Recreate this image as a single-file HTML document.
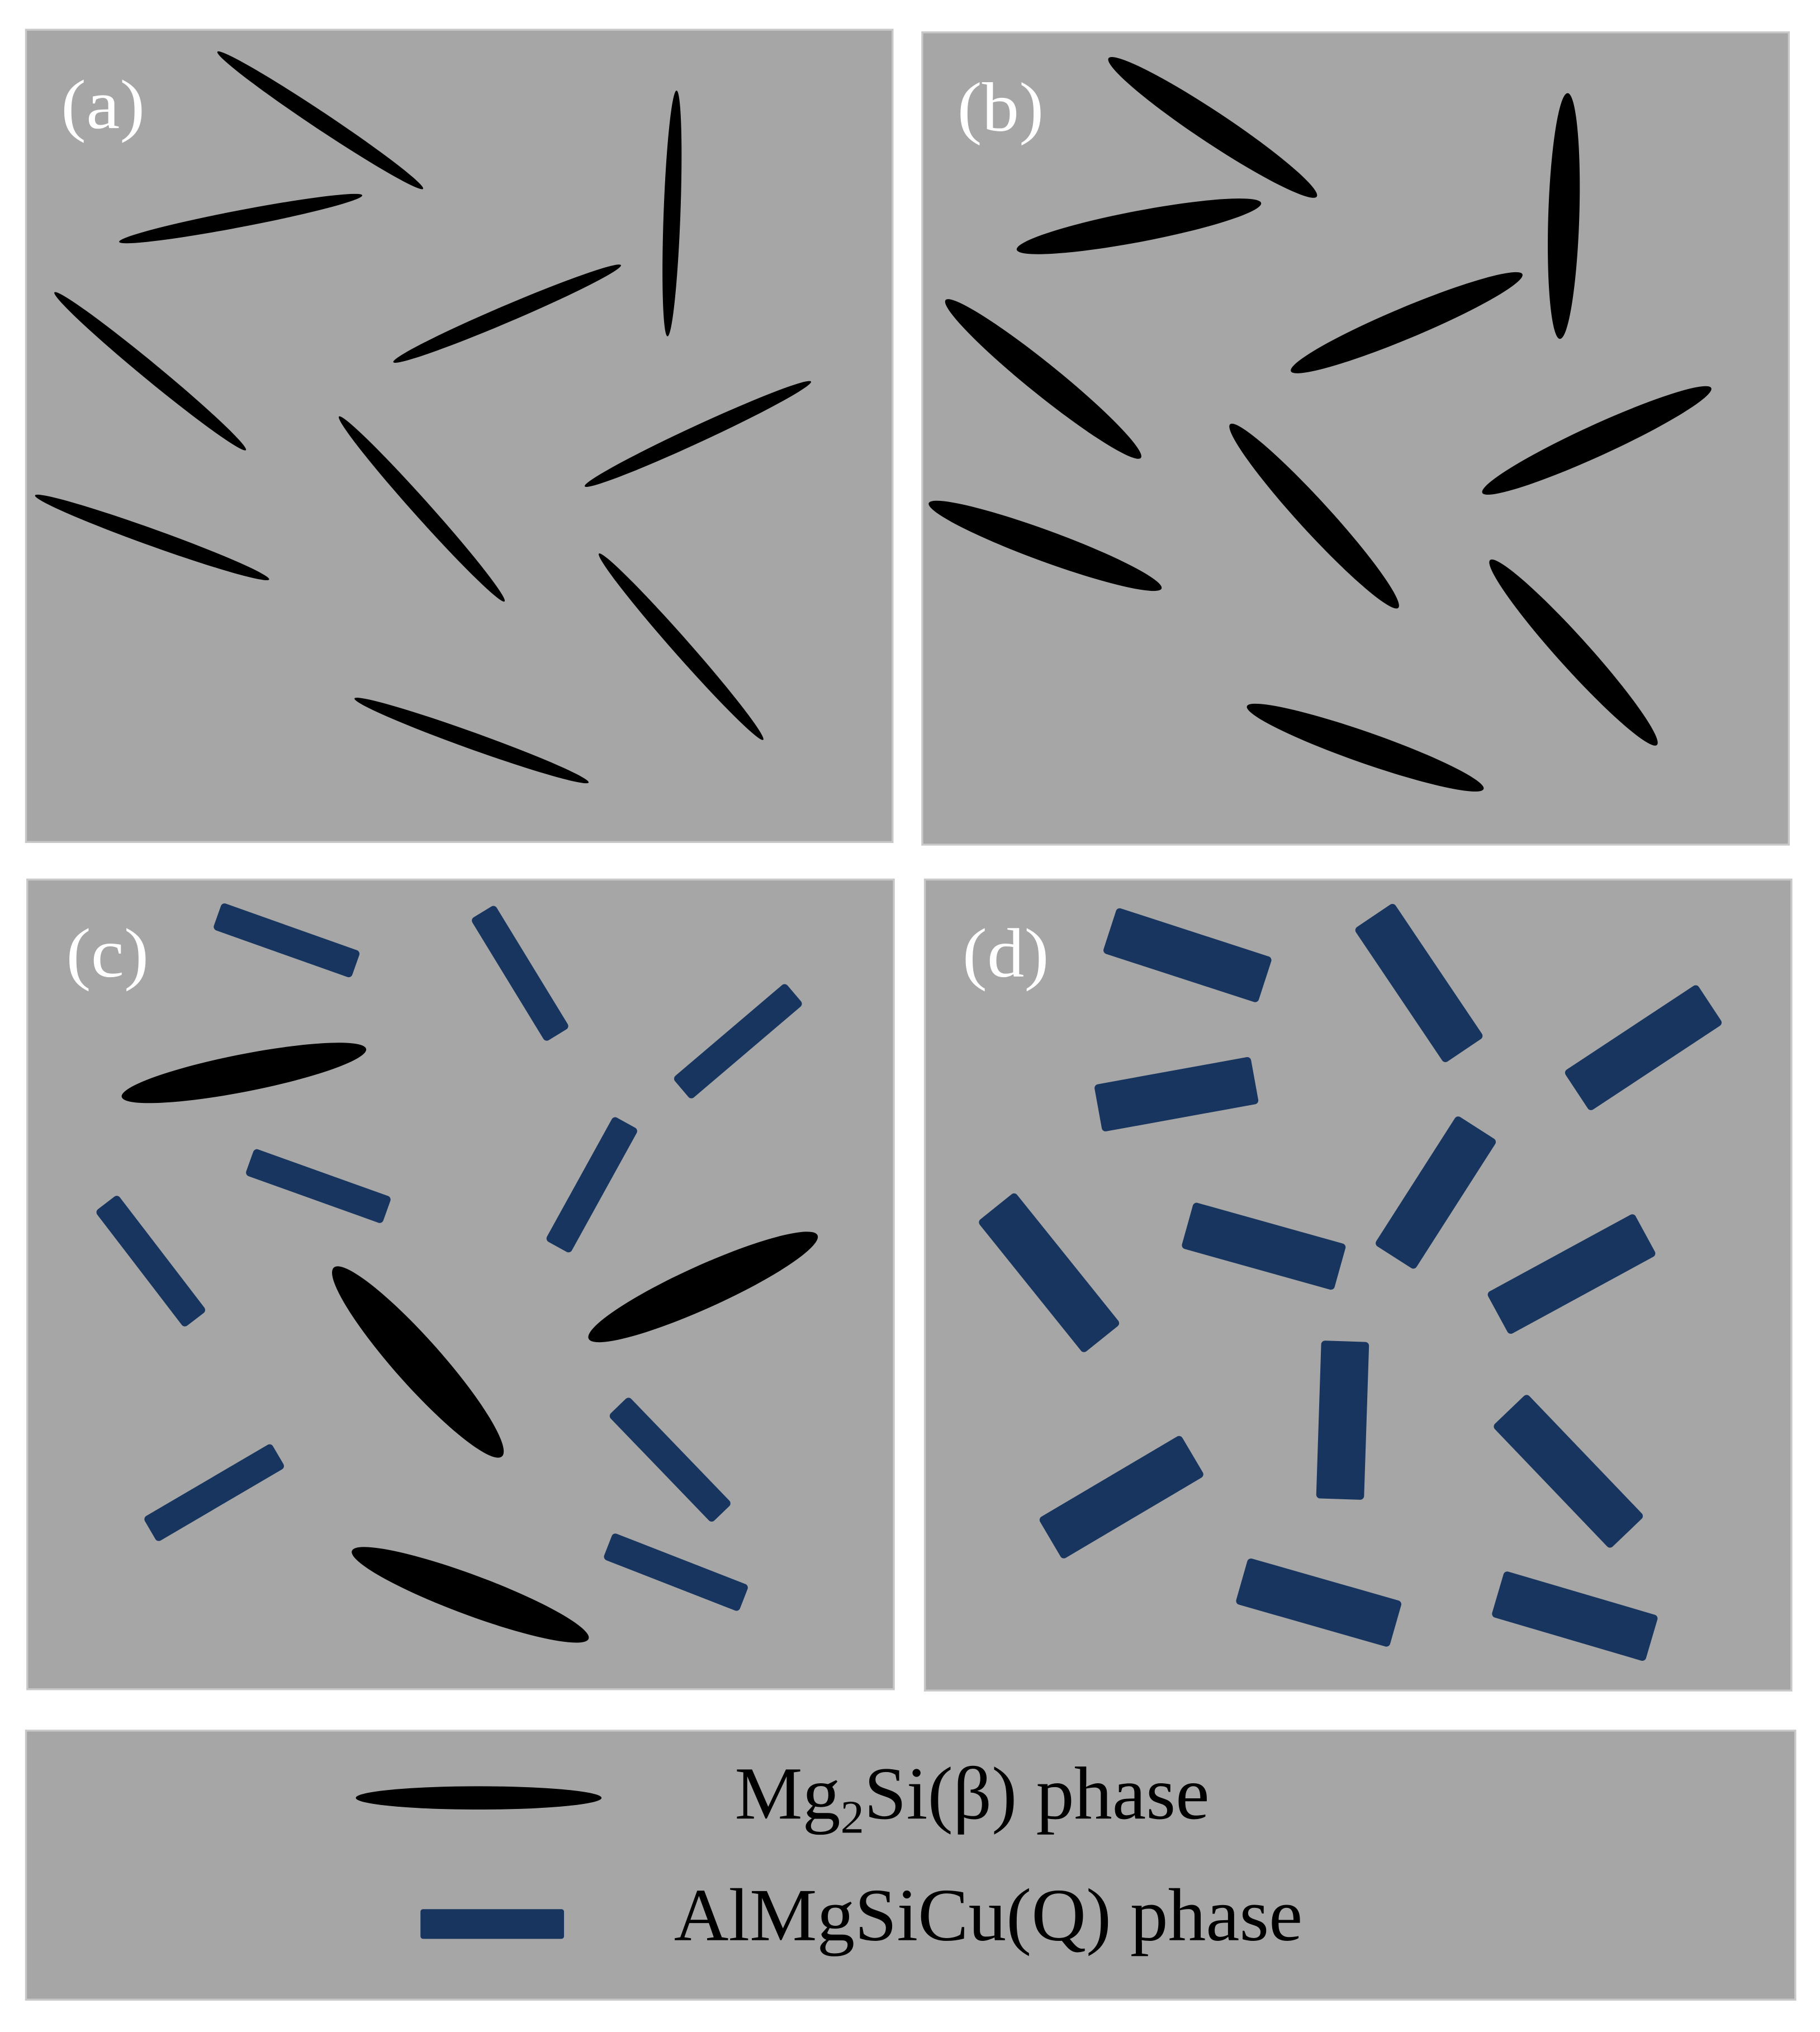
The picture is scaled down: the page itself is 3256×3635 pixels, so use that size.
<!DOCTYPE html>
<html><head><meta charset="utf-8"><style>
html,body{margin:0;padding:0;background:#fff;}
svg{display:block;}
</style></head><body>
<svg id="s" width="3256" height="3635" viewBox="0 0 1407 1571" xmlns="http://www.w3.org/2000/svg">
<rect width="1407" height="1571" fill="#fff"/>
<rect x="20" y="23" width="670" height="628" fill="#a6a6a6" stroke="#c8c8c8" stroke-width="1.5"/>
<rect x="713" y="25" width="670" height="628" fill="#a6a6a6" stroke="#c8c8c8" stroke-width="1.5"/>
<rect x="21" y="680" width="670" height="626" fill="#a6a6a6" stroke="#c8c8c8" stroke-width="1.5"/>
<rect x="715" y="680" width="670" height="627" fill="#a6a6a6" stroke="#c8c8c8" stroke-width="1.5"/>
<rect x="20" y="1338" width="1368" height="208" fill="#a6a6a6" stroke="#c8c8c8" stroke-width="1.5"/>
<g id="g"></g>
<g font-family="'Liberation Serif', serif" fill="#fff" font-size="54">
<text x="47" y="99" textLength="65" lengthAdjust="spacingAndGlyphs">(a)</text>
<text x="740" y="101" textLength="67" lengthAdjust="spacingAndGlyphs">(b)</text>
<text x="51" y="755" textLength="64" lengthAdjust="spacingAndGlyphs">(c)</text>
<text x="744" y="755" textLength="67" lengthAdjust="spacingAndGlyphs">(d)</text>
</g>
<g font-family="'Liberation Serif', serif" fill="#000" font-size="58">
<text x="568" y="1406" textLength="367" lengthAdjust="spacingAndGlyphs">Mg<tspan font-size="36" dy="11">2</tspan><tspan dy="-11">Si(β) phase</tspan></text>
<text x="521" y="1500" textLength="486" lengthAdjust="spacingAndGlyphs">AlMgSiCu(Q) phase</text>
</g>
</svg>
<script>
var g=document.getElementById('g'),NS='http://www.w3.org/2000/svg';
function E(x1,y1,x2,y2,w){var cx=(x1+x2)/2,cy=(y1+y2)/2,l=Math.hypot(x2-x1,y2-y1),a=Math.atan2(y2-y1,x2-x1)*180/Math.PI;
var e=document.createElementNS(NS,'ellipse');e.setAttribute('cx',cx);e.setAttribute('cy',cy);e.setAttribute('rx',l/2);e.setAttribute('ry',w/2);
e.setAttribute('transform','rotate('+a+' '+cx+' '+cy+')');e.setAttribute('fill','#000');g.appendChild(e);}
function C(x1,y1,x2,y2,w){var l=document.createElementNS(NS,'line');l.setAttribute('x1',x1);l.setAttribute('y1',y1);l.setAttribute('x2',x2);l.setAttribute('y2',y2);
l.setAttribute('stroke','#000');l.setAttribute('stroke-width',w);l.setAttribute('stroke-linecap','round');g.appendChild(l);}
function R(x1,y1,x2,y2,w){var cx=(x1+x2)/2,cy=(y1+y2)/2,l=Math.hypot(x2-x1,y2-y1),a=Math.atan2(y2-y1,x2-x1)*180/Math.PI;
var e=document.createElementNS(NS,'rect');e.setAttribute('x',cx-l/2);e.setAttribute('y',cy-w/2);e.setAttribute('width',l);e.setAttribute('height',w);e.setAttribute('rx',3);
e.setAttribute('transform','rotate('+a+' '+cx+' '+cy+')');e.setAttribute('fill','#17355e');g.appendChild(e);}
function T(p,w){E(p[0],p[1],p[2],p[3],w);var k=0.2;C(p[0]+(p[2]-p[0])*k,p[1]+(p[3]-p[1])*k,p[2]-(p[2]-p[0])*k,p[3]-(p[3]-p[1])*k,w*0.95);
E(p[0],p[1],p[2],p[3],w);}
// a
[[168,40,327,146],[92,187,280,151],[523,70,516,260],[42,226,190,348],[304,280,480,205],[262,322,390,465],[452,376,627,295],[27,383,208,448],[463,428,590,572],[274,540,455,605]].forEach(function(p){E(p[0],p[1],p[2],p[3],13)});
// b
[[857,45,1018,152],[786,193,975,157],[1212,72,1206,262],[731,232,882,354],[998,287,1177,212],[951,328,1081,470],[1146,381,1323,300],[718,389,898,455],[1152,433,1281,576],[964,546,1147,610]].forEach(function(p){E(p[0],p[1],p[2],p[3],24)});
// c ellipses
E(94,848,283,811,29);E(258,980,388,1126,36);E(455,1035,632,955,33);E(272,1199,455,1267,31);
// c bars
[[168,708,275,746],[373,705,431,800],[527,842,614,768],[193,898,299,936],[484,868,431,964],[82,930,151,1020],[478,1087,558,1170],[116,1183,215,1125],[470,1195,575,1236]].forEach(function(p){R(p[0],p[1],p[2],p[3],22)});
// d bars
[[858,719,978,758],[1062,708,1132,812],[849,857,970,835],[1219,844,1322,776],[918,947,1036,980],[1078,972,1142,872],[770,933,852,1035],[1158,1016,1272,954],[1040,1037,1036,1159],[812,1190,922,1125],[1167,1090,1258,1185],[960,1222,1079,1256],[1158,1232,1277,1267]].forEach(function(p){R(p[0],p[1],p[2],p[3],37)});
// legend
E(275,1390,465,1390,18);
var r=document.createElementNS(NS,'rect');r.setAttribute('x',325);r.setAttribute('y',1476);r.setAttribute('width',111);r.setAttribute('height',23);r.setAttribute('rx',2);r.setAttribute('fill','#17355e');g.appendChild(r);
</script>
</body></html>
